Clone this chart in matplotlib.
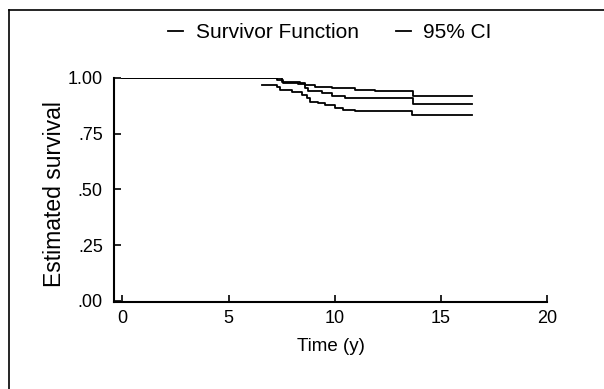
import matplotlib
matplotlib.use("Agg")
import matplotlib.pyplot as plt
from matplotlib.lines import Line2D

plt.rcParams['font.family'] = ['Liberation Sans', 'DejaVu Sans']

# survivor function (Kaplan-Meier estimate)
surv_time = [0, 7.28, 7.56, 8.27, 8.60, 8.74, 9.40, 9.87, 10.48, 11.0, 13.68, 16.46]
surv_value = [1.0, 0.99, 0.979, 0.975, 0.955, 0.940, 0.932, 0.917, 0.910, 0.908, 0.885, 0.885]

# 95% confidence limits
upper_time = [0, 7.51, 8.36, 8.60, 9.07, 9.85, 10.95, 11.89, 13.68, 16.46]
upper_value = [1.0, 0.983, 0.978, 0.968, 0.960, 0.953, 0.945, 0.942, 0.920, 0.920]
lower_time = [6.56, 7.26, 7.42, 7.97, 8.44, 8.68, 8.83, 9.22, 9.54, 10.01, 10.40, 10.95, 13.62, 16.46]
lower_value = [0.967, 0.961, 0.946, 0.939, 0.924, 0.909, 0.894, 0.886, 0.879, 0.864, 0.856, 0.853, 0.834, 0.834]

x_ticks = [0, 5, 10, 15, 20]
y_ticks = [0, 0.25, 0.5, 0.75, 1.0]
y_tick_labels = ['.00', '.25', '.50', '.75', '1.00']

fig = plt.figure(figsize=(6.04, 3.89), dpi=100)
ax = fig.add_axes([0.1887, 0.2237, 0.7169, 0.5758])

ax.step(surv_time, surv_value, where='post', color='black', lw=1.3, label='Survivor Function')
ax.step(upper_time, upper_value, where='post', color='black', lw=1.3, label='95% CI')
ax.step(lower_time, lower_value, where='post', color='black', lw=1.3)

ax.set_xlim(-0.4, 20)
ax.set_ylim(-0.005, 1.0)
ax.set_xticks(x_ticks)
ax.set_yticks(y_ticks)
ax.set_yticklabels(y_tick_labels)
ax.tick_params(direction='in', length=5, width=1.2, labelsize=13, pad=6)
ax.tick_params(axis='y', pad=8)
for side in ['top', 'right']:
    ax.spines[side].set_visible(False)
for side in ['left', 'bottom']:
    ax.spines[side].set_linewidth(1.5)

ax.set_xlabel('Time (y)', fontsize=13.5, labelpad=8)
ax.set_ylabel('Estimated survival', fontsize=16.5)
ax.yaxis.set_label_coords(-0.11, 0.48)

fig.legend(loc='center', bbox_to_anchor=(330 / 604, 1 - 33 / 389), ncol=2,
           frameon=False, fontsize=15, handlelength=0.7, columnspacing=1.8,
           handletextpad=0.6)

# frame of the scanned figure
fig.add_artist(Line2D([9 / 604, 9 / 604], [0, 1 - 10 / 389], color='black', lw=1.2))
fig.add_artist(Line2D([9 / 604, 1], [1 - 10 / 389, 1 - 10 / 389], color='black', lw=1.2))

plt.savefig("out.png", dpi=100)
